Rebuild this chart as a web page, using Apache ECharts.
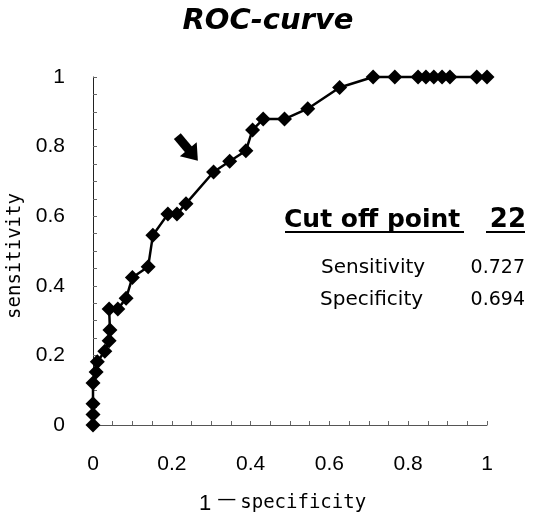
<!DOCTYPE html>
<html><head><meta charset="utf-8">
<script src="https://cdn.jsdelivr.net/npm/echarts@6/dist/echarts.min.js"></script>
<style>html,body{margin:0;padding:0;background:#fff}#c{width:536px;height:514px}</style>
</head><body><div id="c"></div>
<script>
// 1 - specificity (false positive rate)
const fpr = [0, 0, 0, 0, 0.008, 0.011, 0.030, 0.041, 0.043, 0.041, 0.063, 0.084, 0.100, 0.140, 0.152, 0.190, 0.213, 0.236, 0.306, 0.347, 0.388, 0.405, 0.432, 0.486, 0.545, 0.626, 0.711, 0.766, 0.825, 0.845, 0.865, 0.886, 0.906, 0.974, 1.0];
// sensitivity (true positive rate)
const tpr = [0, 0.030, 0.061, 0.121, 0.152, 0.182, 0.212, 0.242, 0.273, 0.333, 0.333, 0.364, 0.424, 0.455, 0.545, 0.606, 0.606, 0.636, 0.727, 0.758, 0.788, 0.848, 0.879, 0.879, 0.909, 0.970, 1, 1, 1, 1, 1, 1, 1, 1, 1];
const xTickLabels = ['0', '0.2', '0.4', '0.6', '0.8', '1'];
const yTickLabels = ['0', '0.2', '0.4', '0.6', '0.8', '1'];
// arrow annotation (tail, head) in data units
const arrowFrom = [0.214, 0.830];
const arrowTo = [0.254, 0.776];
const cutOffLabel = 'Cut off point';
const cutOffValue = '22';
const statNames = ['Sensitivity', 'Specificity'];
const statValues = ['0.727', '0.694'];

const chart = echarts.init(document.getElementById('c'), null, {renderer: 'canvas'});
const points = fpr.map((x, i) => [x, tpr[i]]);
const fmt = labels => v => labels[Math.round(v / 0.2)];
const tickStyle = {inside: true, length: 4, lineStyle: {color: '#666', width: 1}};
const minorStyle = {show: true, splitNumber: 4, length: 4, lineStyle: {color: '#666', width: 1}};
const labelFont = {fontFamily: 'Liberation Sans', fontSize: 21, color: '#000'};

const option = {
  animation: false,
  backgroundColor: '#fff',
  title: {
    text: 'ROC-curve', left: 'center', top: 2,
    textStyle: {fontFamily: 'DejaVu Sans', fontStyle: 'italic', fontWeight: 'bold', fontSize: 29, color: '#000'}
  },
  grid: {left: 93, right: 49, top: 77, bottom: 89, containLabel: false, outerBoundsMode: 'none'},
  xAxis: {
    type: 'value', min: 0, max: 1, interval: 0.2,
    name: '{n|1 }{d|—}{s|specificity}', nameLocation: 'middle', nameGap: 66,
    nameTextStyle: {padding: [0, 15, 0, 0], rich: {
      n: {fontFamily: 'Liberation Sans', fontSize: 22, color: '#000'},
      d: {fontFamily: 'DejaVu Sans', fontSize: 19, color: '#000', padding: [0, 4, 6, 0]},
      s: {fontFamily: 'DejaVu Sans Mono', fontSize: 19, color: '#000'}
    }},
    axisLine: {show: true, onZero: false, lineStyle: {color: '#555', width: 1}},
    axisTick: tickStyle, minorTick: minorStyle,
    splitLine: {show: false}, minorSplitLine: {show: false},
    axisLabel: Object.assign({margin: 29, formatter: fmt(xTickLabels)}, labelFont)
  },
  yAxis: {
    type: 'value', min: 0, max: 1, interval: 0.2,
    name: 'sensitivity', nameLocation: 'middle', nameGap: 63, nameRotate: 90,
    nameTextStyle: {fontFamily: 'DejaVu Sans Mono', fontSize: 19, color: '#000', padding: [0, 10, 0, 0]},
    axisLine: {show: true, onZero: false, lineStyle: {color: '#222', width: 1}},
    axisTick: tickStyle, minorTick: minorStyle,
    splitLine: {show: false}, minorSplitLine: {show: false},
    axisLabel: Object.assign({margin: 28, formatter: fmt(yTickLabels)}, labelFont)
  },
  series: [{
    type: 'line', data: points,
    symbol: 'diamond', symbolSize: 15, showAllSymbol: true,
    itemStyle: {color: '#000'},
    lineStyle: {color: '#000', width: 2.5},
    clip: false, silent: true,
    markLine: {
      silent: true, animation: false,
      symbol: ['none', 'triangle'], symbolSize: [22, 15],
      label: {show: false},
      lineStyle: {color: '#000', width: 9, type: 'solid'},
      data: [[{coord: arrowFrom}, {coord: arrowTo}]]
    }
  }],
  graphic: [
    {type: 'text', style: {x: 284, y: 220, text: cutOffLabel, font: 'bold 25px "DejaVu Sans"', fill: '#000', textAlign: 'left', textVerticalAlign: 'middle'}},
    {type: 'text', style: {x: 526, y: 220, text: cutOffValue, font: 'bold 26px "DejaVu Sans"', fill: '#000', textAlign: 'right', textVerticalAlign: 'middle'}},
    {type: 'line', shape: {x1: 285, y1: 232, x2: 464, y2: 232}, style: {stroke: '#000', lineWidth: 2}},
    {type: 'line', shape: {x1: 486, y1: 232, x2: 525, y2: 232}, style: {stroke: '#000', lineWidth: 2}},
    {type: 'text', style: {x: 321, y: 268, text: statNames[0], font: '20px "DejaVu Sans"', fill: '#000', textAlign: 'left', textVerticalAlign: 'middle'}},
    {type: 'text', style: {x: 320, y: 300, text: statNames[1], font: '20px "DejaVu Sans"', fill: '#000', textAlign: 'left', textVerticalAlign: 'middle'}},
    {type: 'text', style: {x: 525, y: 268, text: statValues[0], font: '19px "DejaVu Sans"', fill: '#000', textAlign: 'right', textVerticalAlign: 'middle'}},
    {type: 'text', style: {x: 525, y: 300, text: statValues[1], font: '19px "DejaVu Sans"', fill: '#000', textAlign: 'right', textVerticalAlign: 'middle'}}
  ]
};
chart.setOption(option);
</script></body></html>
